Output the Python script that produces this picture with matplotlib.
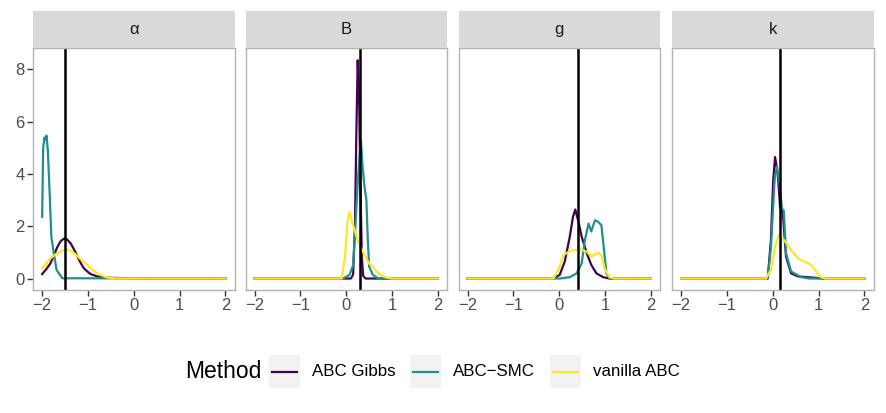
#!/usr/bin/env python3

"""Posterior densities of g-and-k parameters for three ABC methods."""

import matplotlib
matplotlib.use("Agg")
from matplotlib import pyplot as plt
from matplotlib.patches import Rectangle
from matplotlib.lines import Line2D

plt.rcParams['font.family'] = ['Liberation Sans', 'DejaVu Sans']

params = ["\u03b1", "B", "g", "k"]
true_values = [-1.5, 0.3, 0.4, 0.15]
methods = ["ABC Gibbs", "ABC\u2212SMC", "vanilla ABC"]
colors = ["#440154", "#21908C", "#FDE725"]

# density curves, (x, density)
alpha_gibbs = [(-2, 0.17), (-1.9, 0.38), (-1.82, 0.58), (-1.74, 0.9), (-1.67, 1.2),
               (-1.6, 1.42), (-1.53, 1.52), (-1.46, 1.5), (-1.38, 1.35), (-1.3, 1.1),
               (-1.23, 0.84), (-1.16, 0.6), (-1.09, 0.39), (-1.0, 0.25), (-0.94, 0.17),
               (-0.8, 0.08), (-0.65, 0.04), (-0.4, 0.02), (0, 0.0), (2, 0.0)]
alpha_smc = [(-2, 2.36), (-1.978, 5.0), (-1.949, 5.4), (-1.927, 5.3), (-1.905, 5.47),
             (-1.876, 4.9), (-1.83, 3.0), (-1.8, 1.6), (-1.745, 0.97), (-1.686, 0.33),
             (-1.635, 0.2), (-1.56, 0.01), (2, 0.0)]
alpha_vanilla = [(-2, 0.39), (-1.9, 0.6), (-1.82, 0.77), (-1.67, 0.97), (-1.53, 1.09),
                 (-1.45, 1.12), (-1.3, 0.97), (-1.16, 0.74), (-1.01, 0.52), (-0.87, 0.29),
                 (-0.72, 0.13), (-0.58, 0.04), (-0.4, 0.0), (2, 0.0)]

b_gibbs = [(-2, 0.0), (0.1, 0.0), (0.15, 0.15), (0.19, 2.0), (0.22, 5.5), (0.25, 8.35),
           (0.28, 7.0), (0.31, 3.5), (0.34, 0.8), (0.37, 0.1), (0.42, 0.0), (2, 0.0)]
b_smc = [(-2, 0.0), (-0.07, 0.0), (0.07, 0.14), (0.15, 0.5), (0.22, 2.7), (0.28, 4.5),
         (0.32, 5.3), (0.36, 4.2), (0.4, 3.5), (0.44, 3.0), (0.47, 1.5), (0.5, 0.46),
         (0.58, 0.14), (0.7, 0.0), (2, 0.0)]
b_vanilla = [(-2, 0.0), (-0.1, 0.0), (-0.03, 0.8), (0.03, 2.2), (0.07, 2.55), (0.14, 2.1),
             (0.25, 1.47), (0.36, 1.03), (0.5, 0.58), (0.61, 0.39), (0.72, 0.17),
             (0.87, 0.04), (1.0, 0.0), (2, 0.0)]

g_gibbs = [(-2, 0.0), (-0.13, 0.0), (0.01, 0.14), (0.12, 0.65), (0.23, 1.6), (0.3, 2.36),
           (0.35, 2.64), (0.42, 2.17), (0.49, 1.6), (0.6, 0.97), (0.7, 0.52), (0.81, 0.2),
           (0.96, 0.05), (1.1, 0.0), (2, 0.0)]
g_smc = [(-2, 0.0), (0.01, 0.0), (0.23, 0.05), (0.38, 0.2), (0.49, 0.58), (0.56, 1.47),
         (0.64, 2.1), (0.7, 1.8), (0.78, 2.23), (0.85, 2.17), (0.92, 2.04), (0.97, 1.22),
         (1.03, 0.2), (1.1, 0.0), (2, 0.0)]
g_vanilla = [(-2, 0.0), (-0.13, 0.0), (-0.02, 0.33), (0.09, 0.9), (0.23, 1.05),
             (0.45, 1.12), (0.6, 1.03), (0.7, 0.84), (0.85, 0.99), (0.92, 0.9),
             (0.99, 0.39), (1.1, 0.05), (1.2, 0.0), (2, 0.0)]

k_gibbs = [(-2, 0.0), (-0.11, 0.0), (-0.04, 1.47), (0.01, 3.76), (0.05, 4.65), (0.11, 4.0),
           (0.16, 2.74), (0.22, 2.5), (0.29, 0.84), (0.4, 0.2), (0.55, 0.08), (0.98, 0.02),
           (1.1, 0.0), (2, 0.0)]
k_smc = [(-2, 0.0), (-0.11, 0.0), (-0.04, 1.2), (0.04, 3.76), (0.09, 4.29), (0.15, 3.6),
         (0.2, 2.68), (0.24, 2.6), (0.29, 0.97), (0.4, 0.27), (0.47, 0.2), (0.62, 0.05),
         (0.8, 0.0), (2, 0.0)]
k_vanilla = [(-2, 0.0), (-0.15, 0.0), (-0.04, 0.33), (0.05, 1.22), (0.13, 1.66),
             (0.25, 1.47), (0.4, 1.09), (0.55, 0.77), (0.69, 0.65), (0.84, 0.52),
             (0.95, 0.27), (1.05, 0.05), (1.15, 0.0), (2, 0.0)]

curves = [[alpha_gibbs, alpha_smc, alpha_vanilla],
          [b_gibbs, b_smc, b_vanilla],
          [g_gibbs, g_smc, g_vanilla],
          [k_gibbs, k_smc, k_vanilla]]

W, H = 886, 413
fig = plt.figure(figsize=(W / 100, H / 100), dpi=100)

panel_lefts = [33, 245.5, 458.5, 672]
panel_w = 201.5
panel_top, panel_bottom, strip_top = 48, 289.5, 11

axes = []
for i, name in enumerate(params):
    left = panel_lefts[i] / W
    ax = fig.add_axes([left, 1 - panel_bottom / H, panel_w / W, (panel_bottom - panel_top) / H])
    for j, pts in enumerate(curves[i]):
        xs = [p[0] for p in pts]
        ys = [p[1] for p in pts]
        ax.plot(xs, ys, color=colors[j], lw=1.6, solid_joinstyle='round')
    ax.axvline(true_values[i], color="black", lw=1.8)
    ax.set_xlim(-2.2, 2.2)
    ax.set_ylim(-0.42, 8.82)
    ax.set_xticks([-2, -1, 0, 1, 2])
    ax.set_yticks([0, 2, 4, 6, 8])
    for s in ax.spines.values():
        s.set_color("#B3B3B3")
        s.set_linewidth(1.0)
    ax.tick_params(colors="#333333", labelcolor="#4D4D4D", labelsize=12,
                   length=4, width=1.0, pad=2)
    if i > 0:
        ax.tick_params(axis='y', left=False, labelleft=False)

    sax = fig.add_axes([left, 1 - panel_top / H, panel_w / W, (panel_top - strip_top) / H])
    sax.set_facecolor("#D9D9D9")
    sax.set_xticks([])
    sax.set_yticks([])
    for s in sax.spines.values():
        s.set_visible(False)
    sax.text(0.5, 0.5, name, ha='center', va='center', fontsize=12, color="#1A1A1A",
             transform=sax.transAxes)
    axes.append(ax)

# legend at the bottom, drawn by hand in ggplot style
ly = 1 - 372 / H
fig.text(185 / W, ly, "Method", fontsize=16.5, ha='left', va='center', color="black")
key_x = [269, 410, 550]
for j, m in enumerate(methods):
    x0 = key_x[j]
    fig.add_artist(Rectangle((x0 / W, 1 - 388 / H), 31 / W, 33 / H,
                             transform=fig.transFigure, facecolor="#F2F2F2",
                             edgecolor="none"))
    fig.add_artist(Line2D([(x0 + 3) / W, (x0 + 28) / W], [ly, ly],
                          transform=fig.transFigure, color=colors[j], lw=1.6))
    fig.text((x0 + 43) / W, ly, m, fontsize=12.2, ha='left', va='center', color="black")

plt.savefig("out.png", dpi=100)
